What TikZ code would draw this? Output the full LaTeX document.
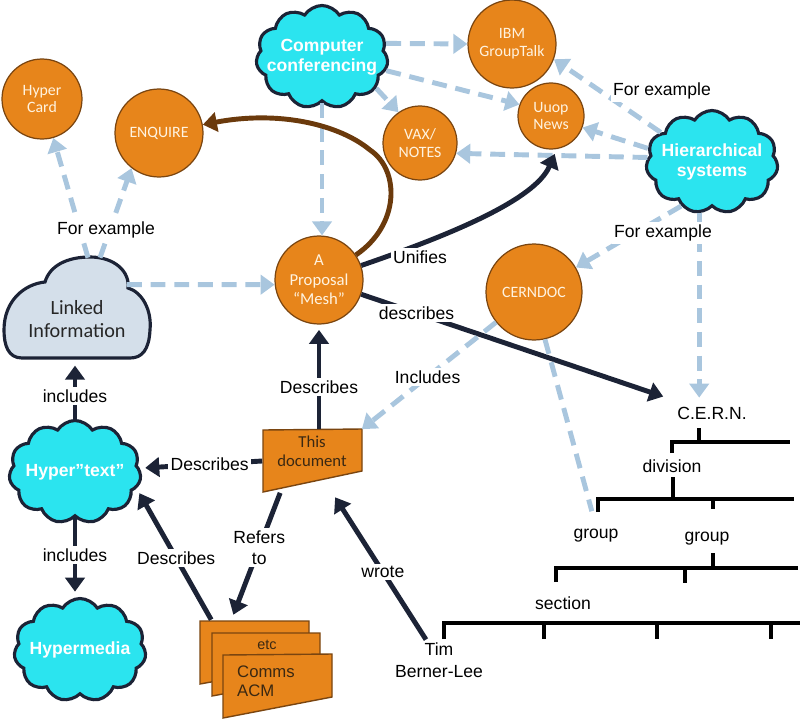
\documentclass[tikz,border=0pt]{standalone}
\usepackage{fontspec}
\setmainfont{Liberation Sans}
\newfontfamily\carl{Carlito}
\usetikzlibrary{shapes.symbols,arrows.meta,calc}
\definecolor{orng}{HTML}{E7851B}
\definecolor{obrn}{HTML}{7A4510}
\definecolor{cyn}{HTML}{2BE4EF}
\definecolor{ink}{HTML}{1C2336}
\definecolor{skyd}{HTML}{A9C6DE}
\definecolor{lnk}{HTML}{D4DFEA}
\definecolor{brn}{HTML}{6B3A0C}
\definecolor{dtx}{HTML}{3A2812}
\definecolor{cream}{HTML}{FFF3E0}
\tikzset{circ/.style = {circle, draw=obrn, line width=0.7pt, fill=orng, text=cream,
                        font=\carl\fontsize{9}{10.2}\selectfont, align=center, inner sep=0pt}}
\tikzset{puff/.style = {cloud, cloud puffs=11, cloud puff arc=115, draw=ink, line width=1.8pt,
                        fill=cyn, inner sep=0pt, minimum width=2.64cm, minimum height=2.06cm}}
\tikzset{ptxt/.style = {text=white, font=\bfseries\fontsize{10}{11.5}\selectfont, align=center}}
\tikzset{blu/.style = {draw=skyd, line width=2.8pt, dash pattern=on 8.5pt off 5pt,
                       -{Triangle[width=11pt,length=8pt]}}}
\tikzset{nav/.style = {draw=ink, line width=2.8pt, shorten >=3pt, -{Triangle[width=11pt,length=8pt]}}}
\tikzset{brnl/.style = {draw=brn, line width=2.8pt, -{Triangle[width=11pt,length=8pt]}}}
\tikzset{lbl/.style = {fill=white, inner sep=1.5pt, text=black, font=\fontsize{10}{12}\selectfont, align=center}}
\tikzset{box/.style = {inner sep=0pt}}
\tikzset{dtxt/.style = {text=dtx, font=\fontsize{9}{10.8}\selectfont, align=center}}
\tikzset{tree/.style = {line width=2.3pt}}
\tikzset{sheet/.style = {fill=orng, draw=obrn, line width=0.8pt}}

\begin{document}
\begin{tikzpicture}[x=0.02cm, y=-0.02cm]
      \useasboundingbox (0,0) rectangle (800,720);

      \filldraw [fill=lnk, draw=ink, line width=1.8pt] (22,358) .. controls (8,358) and (4,345) .. (4,330)
        .. controls (4,300) and (25,284) .. (45,282) .. controls (50,265) and (68,257) .. (90,257)
        .. controls (115,257) and (130,272) .. (128,288) .. controls (142,292) and (152,310) .. (150,330)
        .. controls (149,350) and (142,358) .. (130,358) -- cycle;
      \node [box, minimum width=2.98cm, minimum height=2.2cm,
             label={[font=\carl\fontsize{11.5}{13}\selectfont, text=black!85, align=center, yshift=-0.28cm]center:Linked\\Information}] (link) at (77,305) {};

      \node [circ, minimum size=1.6cm] (card) at (42,99) {Hyper\\Card};
      \node [circ, minimum size=1.76cm] (enq) at (159,133) {ENQUIRE};
      \node [circ, minimum size=1.76cm] (ibm) at (512,44) {IBM\\GroupTalk};
      \node [circ, minimum size=1.32cm] (news) at (551,116) {Uuop\\News};
      \node [circ, minimum size=1.48cm] (vax) at (420,143) {VAX/\\NOTES};
      \node [circ, minimum size=1.76cm, font=\carl\fontsize{9.5}{11}\selectfont] (mesh) at (319,280) {A\\Proposal\\“Mesh”};
      \node [circ, minimum size=1.92cm] (cdoc) at (534,292) {CERNDOC};

      \node [puff, label={[ptxt]center:Computer\\conferencing}] (cc) at (322,57) {};
      \node [puff, label={[ptxt]center:Hierarchical\\systems}] (hs) at (712,162) {};
      \node [puff, label={[ptxt]center:Hyper”text”}] (ht) at (75,472) {};
      \node [puff, label={[ptxt]center:Hypermedia}] (hm) at (80,650) {};

      \filldraw [sheet] (263,430) -- (362,429) -- (362,471) -- (263,492) -- cycle;
      \node [box, minimum width=1.98cm, minimum height=1.26cm,
             label={[dtxt, font=\carl\fontsize{9.5}{11}\selectfont, yshift=0.2cm]center:This\\document}] (doc) at (312,461) {};

      \filldraw [sheet] (200,621) -- (309,621) -- (309,664) -- (200,684) -- cycle;
      \filldraw [sheet] (212,633) -- (320,633) -- (320,676) -- (212,696) -- cycle;
      \filldraw [sheet] (223,655) -- (332,654) -- (332,697) -- (223,718) -- cycle;
      \node [box, minimum width=2.64cm, minimum height=1.96cm] (acm) at (266,669) {};
      \node [dtxt, font=\fontsize{8.2}{10}\selectfont] (etc) at (267,645) {etc};
      \node [dtxt, align=left, anchor=west, font=\fontsize{9.5}{11}\selectfont] (comms) at (231,681) {Comms\\ACM};

      \node [lbl, fill=none, font=\fontsize{10}{12.5}\selectfont] (tim) at (439,660) {Tim\\Berner-Lee};
      \node [lbl, inner sep=5pt] (cern) at (712,413) {C.E.R.N.};
      \node [lbl] (div) at (672,466) {division};
      \node [lbl] (grp1) at (596,536) {group};
      \node [lbl] (grp2) at (707,539) {group};
      \node [lbl] (sec) at (563,603) {section};

      \draw [tree] (699,428) -- (699,442) (672,453) -- (672,442) -- (790,442);
      \draw [tree] (673,477) -- (673,499) (598,512) -- (598,499) -- (794,499) (713,499) -- (713,509);
      \draw [tree] (713,553) -- (713,568) (556,582) -- (556,568) -- (798,568) (685,568) -- (685,583);
      \draw [tree] (444,639) -- (444,623) -- (800,623) (544,623) -- (544,639) (657,623) -- (657,639) (771,623) -- (771,639);

      \draw [blu] ($(link.north)+(11,8)$) -- (card);
      \draw [blu] ($(link.north)+(23,8)$) -- (enq.-128);
      \draw [blu] ($(link.north east)+(-25,35)$) -- (mesh.186);
      \draw [blu] (cc.south) -- (cc.south |- mesh.north);
      \draw [blu] (cc.12) -- (ibm.west);
      \draw [blu] (cc.-12) -- (news.160);
      \draw [blu] (cc.-30) -- (vax.125);
      \draw [blu] (hs.150) -- (ibm.-20);
      \draw [blu] (hs.168) -- (news.-20);
      \draw [blu] (hs.176) -- (vax.-16);
      \draw [blu] (hs.-125) -- (cdoc);
      \draw [blu] (hs.-104) -- (hs.-104 |- cern.north);

      \draw [brnl] (mesh) .. controls (400,225) and (400,170) .. (370,150)
                   .. controls (340,125) and (280,110) .. (enq);
      \draw [nav] (mesh) .. controls (450,235) and (535,200) .. (news.-80);
      \draw [nav] (mesh) -- node [lbl, pos=0.18] (d4) {describes} (cern);
      \draw [nav] (doc.north -| mesh.south) -- node [lbl, pos=0.4] (d1) {Describes} (mesh.south);
      \draw [nav] (doc.west) -- node [lbl, pos=0.43] (d2) {Describes} (ht);
      \draw [nav] (acm.138) -- node [lbl, pos=0.47] (d3) {Describes} (ht.-15);
      \draw [nav] (doc.-135) -- node [lbl, pos=0.43] (refs) {Refers\\to} (acm.125);
      \draw [nav] (tim) -- node [lbl, pos=0.46] (wr) {wrote} (doc);
      \draw [nav] (ht.north) -- node [lbl, pos=0.39] (i1) {includes} (ht.north |- link.south);
      \draw [nav] (ht.south) -- node [lbl, pos=0.47] (i2) {includes} (ht.south |- hm.north);

      \draw [blu] (cdoc) -- node [lbl, pos=0.51] (inc) {Includes} (doc.north east);
      \draw [blu, -, shorten >=9pt] (cdoc.-77) -- (grp1.north);

      \node [lbl] (uni) at (420,257) {Unifies};
      \node [lbl] (fe1) at (106,230) {For example};
      \node [lbl] (fe2) at (662,91) {For example};
      \node [lbl] (fe3) at (663,233) {For example};
    \end{tikzpicture}
\end{document}
